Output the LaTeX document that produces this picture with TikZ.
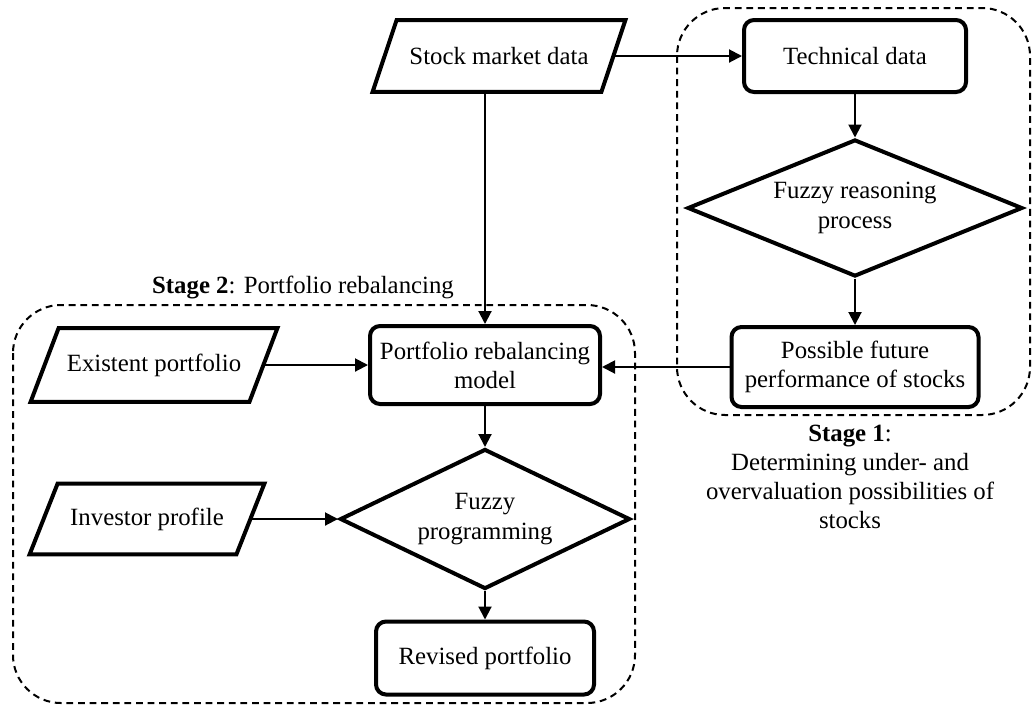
\documentclass[tikz,border=0pt]{standalone}
\usepackage{fontspec}
\setmainfont{Liberation Serif}
\usetikzlibrary{arrows.meta,shapes.geometric,calc}
\begin{document}
\begin{tikzpicture}[x=0.5pt,y=-0.5pt,
  every node/.style={font=\fontsize{12.4}{14.6}\selectfont, align=center, inner sep=0pt},
  procbox/.style={draw, line width=2pt, rounded corners=5pt},
  iobox/.style={inner sep=0pt},
  iobody/.style={line width=2pt, line join=miter},
  decision/.style={draw, diamond, line width=2pt, inner sep=0pt},
  conn/.style={line width=1pt, -{Triangle[length=6.5pt,width=6.5pt]}},
  stagebox/.style={line width=1pt, dash pattern=on 3.4pt off 2.4pt, rounded corners=24pt},
]
\useasboundingbox (0,0) rectangle (1032,708);

% stage frames
\draw[stagebox] (677,8) rectangle (1030,415);
\draw[stagebox] (13,305) rectangle (635,703);

% stage 1 nodes
\node[procbox, minimum width=111pt, minimum height=36pt] (td) at (855,56) {Technical data};
\node[decision, aspect=2.45, minimum width=167.5pt, minimum height=68.5pt] (fr) at (855,208) {Fuzzy reasoning\\process};
\node[procbox, minimum width=123.5pt, minimum height=40pt] (pf) at (855,367) {Possible future\\performance of stocks};

% input/output nodes
\node[iobox, minimum width=114pt, minimum height=35.5pt] (smd) at (499,56) {Stock market data};
\node[iobox, minimum width=109pt, minimum height=36.5pt] (ep) at (154,365) {Existent portfolio};
\node[iobox, minimum width=103pt, minimum height=35pt] (ip) at (147,519) {Investor profile};
\foreach \n/\s in {smd/12,ep/14,ip/14}{
  \draw[iobody] ($(\n.south west)+(-\s,0)$) -- ($(\n.south east)+(-\s,0)$) -- ($(\n.north east)+(\s,0)$) -- ($(\n.north west)+(\s,0)$) -- cycle;
}

% stage 2 nodes
\node[procbox, minimum width=115pt, minimum height=39pt] (prm) at (485,365) {Portfolio rebalancing\\model};
\node[decision, aspect=2.1, minimum width=145pt, minimum height=70pt] (fp) at (485,519) {Fuzzy\\programming};
\node[procbox, minimum width=109pt, minimum height=36.5pt] (rp) at (485,658) {Revised portfolio};

% labels
\node (s2) at (303,287) {\textbf{Stage 2}: Portfolio rebalancing};
\node (s1) at (850,477) {\textbf{Stage 1}:\\Determining under- and\\overvaluation possibilities of\\stocks};

% connectors
\draw[conn] (smd.east) -- (td.west);
\draw[conn] (td.south) -- (fr.north);
\draw[conn] (fr.south) -- (pf.north);
\draw[conn] (pf.west) -- (pf.west -| prm.east);
\draw[conn] (prm.north |- smd.south) -- (prm.north);
\draw[conn] (ep.east) -- (ep.east -| prm.west);
\draw[conn] (prm.south) -- (fp.north);
\draw[conn] (ip.east) -- (fp.west);
\draw[conn] (fp.south) -- (rp.north);
\end{tikzpicture}
\end{document}
